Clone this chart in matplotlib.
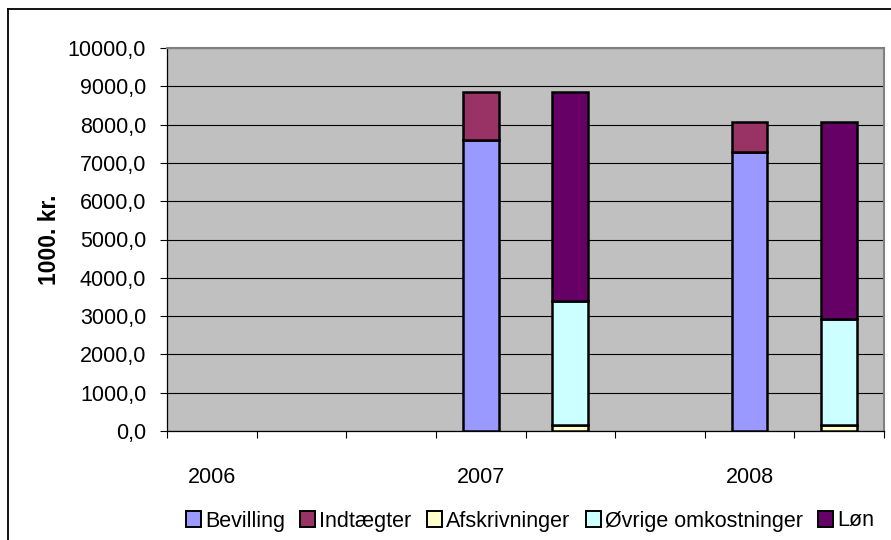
import matplotlib
matplotlib.use("Agg")
import matplotlib.pyplot as plt
from matplotlib.patches import Patch
from matplotlib.lines import Line2D
import numpy as np

plt.rcParams['font.family'] = ['Liberation Sans', 'DejaVu Sans']

categories = ["2006", "", "", "2007", "", "", "2008", ""]
series_names = ["Bevilling", "Indtægter", "Afskrivninger", "Øvrige omkostninger", "Løn"]
bevilling = [0, 0, 0, 7600, 0, 0, 7280, 0]
indtaegter = [0, 0, 0, 1250, 0, 0, 780, 0]
afskrivninger = [0, 0, 0, 0, 150, 0, 0, 150]
oevrige = [0, 0, 0, 0, 3240, 0, 0, 2770]
loen = [0, 0, 0, 0, 5460, 0, 0, 5140]
colors = ["#9999FF", "#993366", "#FFFFCC", "#CCFFFF", "#660066"]
y_ticks = [0, 1000, 2000, 3000, 4000, 5000, 6000, 7000, 8000, 9000, 10000]

fig = plt.figure(figsize=(8.91, 5.40), dpi=100)
ax = fig.add_axes([167/891, 109/540, 717/891, 383/540])
ax.set_facecolor("#C0C0C0")

x = np.arange(len(categories))
bottom = np.zeros(len(categories))
for name, vals, c in zip(series_names, [bevilling, indtaegter, afskrivninger, oevrige, loen], colors):
    v = np.array(vals, dtype=float)
    mask = v > 0
    ax.bar(x[mask], v[mask], bottom=bottom[mask], width=0.4, color=c,
           edgecolor="black", linewidth=1.8, zorder=3)
    bottom += v

ax.set_xlim(-0.5, len(categories) - 0.5)
ax.set_ylim(0, 10000)
ax.set_yticks(y_ticks)
ax.set_yticklabels([f"{t:.1f}".replace(".", ",") for t in y_ticks], fontsize=15.5)
ax.yaxis.grid(True, color="black", linewidth=0.8, zorder=1)
ax.set_axisbelow(True)

label_pos = [i for i, c in enumerate(categories) if c]
ax.set_xticks(label_pos)
ax.set_xticklabels([categories[i] for i in label_pos], fontsize=15.5)
ax.tick_params(axis='x', which='major', length=0, pad=26)
ax.set_xticks(np.arange(-0.5, len(categories)), minor=True)
ax.tick_params(axis='x', which='minor', length=5, width=0.8, direction='out', color='black')
ax.tick_params(axis='y', length=5, width=0.8, direction='out', pad=10)

for s in ['top', 'right']:
    ax.spines[s].set_color("#808080")
    ax.spines[s].set_linewidth(1.5)
for s in ['left', 'bottom']:
    ax.spines[s].set_color("black")
    ax.spines[s].set_linewidth(0.9)

ax.set_ylabel("1000. kr.", fontsize=16.5, fontweight='bold', labelpad=5)

handles = [Patch(facecolor=c, edgecolor="black", linewidth=1.4, label=n)
           for n, c in zip(series_names, colors)]
fig.legend(handles=handles, loc='center', bbox_to_anchor=(530/891, 1 - 521/540),
           ncol=5, frameon=False, fontsize=15.5, handlelength=0.7, handleheight=0.7,
           handletextpad=0.2, columnspacing=0.7, borderaxespad=0)

# outer chart frame
fig.add_artist(Line2D([8/891, 8/891], [0, 1 - 9/540], transform=fig.transFigure,
                      color="black", linewidth=1.3))
fig.add_artist(Line2D([8/891, 1], [1 - 9/540, 1 - 9/540], transform=fig.transFigure,
                      color="black", linewidth=1.3))

fig.savefig("out.png", dpi=100)
